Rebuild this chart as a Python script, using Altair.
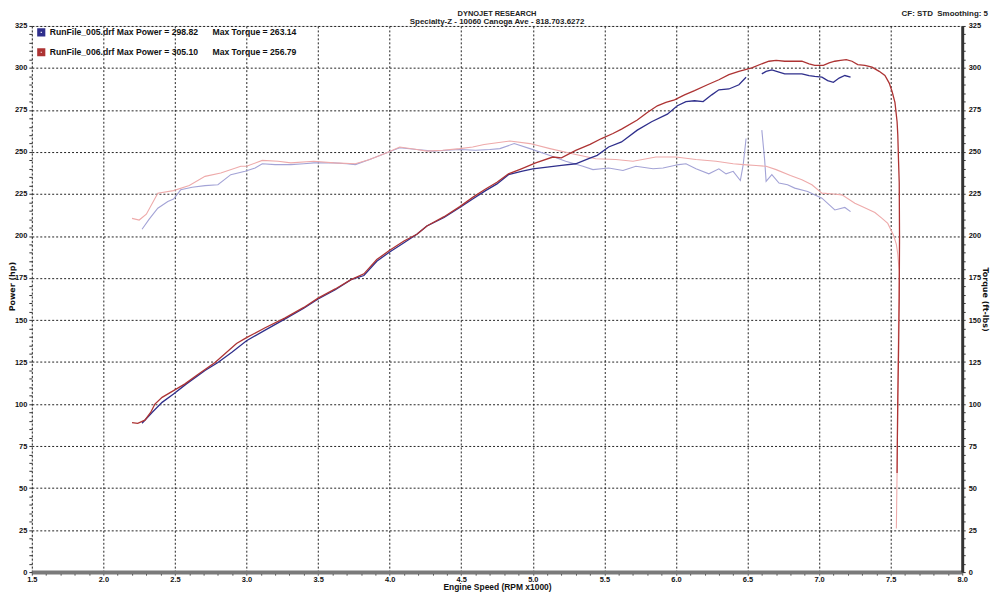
import altair as alt
import pandas as pd

# ---------------- data ----------------
# Run 005 power (two segments, gap near 6.55k rpm)
p005a_rpm = [2.27, 2.34, 2.41, 2.49, 2.58, 2.71, 2.80, 2.90, 3.00, 3.13, 3.27, 3.40, 3.50, 3.62, 3.73, 3.82,
             3.91, 4.00, 4.10, 4.19, 4.26, 4.38, 4.49, 4.58, 4.67, 4.75, 4.83, 4.92, 5.00, 5.10, 5.20, 5.30,
             5.39, 5.45, 5.53, 5.62, 5.73, 5.83, 5.94, 6.01, 6.07, 6.13, 6.19, 6.25, 6.30, 6.37, 6.44, 6.49]
p005a_hp = [88.6, 95, 101, 106, 112, 120, 124.7, 131, 137.7, 144, 150.7, 157, 162.5, 168, 174, 176.5,
            185, 190.5, 196, 201, 206, 211, 217, 222, 227, 231, 236.5, 238.5, 240, 241, 242, 243,
            246, 248, 253, 256, 263, 268, 272.5, 277.5, 280, 280.5, 280, 284, 287, 287.5, 290, 294.5]
p005b_rpm = [6.60, 6.63, 6.67, 6.72, 6.76, 6.82, 6.88, 6.93, 6.97, 7.02, 7.06, 7.10, 7.14, 7.18, 7.22]
p005b_hp = [296.5, 298, 298.8, 297.5, 296.5, 296.5, 296.5, 295.5, 295, 294.5, 292.5, 291.5, 294, 295.5, 294.5]

# Run 005 torque (two segments)
t005a_rpm = [2.27, 2.32, 2.38, 2.45, 2.49, 2.54, 2.62, 2.71, 2.80, 2.89, 2.99, 3.06, 3.11, 3.20, 3.31, 3.40,
             3.47, 3.55, 3.61, 3.70, 3.76, 3.86, 3.98, 4.07, 4.19, 4.30, 4.40, 4.49, 4.60, 4.70, 4.77, 4.87,
             4.98, 5.10, 5.23, 5.35, 5.42, 5.53, 5.63, 5.72, 5.84, 5.91, 6.02, 6.07, 6.14, 6.23, 6.30, 6.35,
             6.40, 6.45, 6.47, 6.49]
t005a_tq = [204, 210, 216.5, 220.5, 222, 227.5, 229, 230, 230.5, 236.5, 238.5, 240.5, 243, 242.5, 242.5, 243,
            243.5, 243.5, 243.5, 243, 242.5, 245.5, 249.5, 252.5, 251.5, 250.5, 251, 251.5, 251, 251.5, 252, 255,
            252, 248.5, 244.5, 241.5, 239.5, 240.5, 239, 241.5, 240, 240.5, 242.5, 243, 240, 237, 240, 237,
            238.5, 233, 242.5, 258]
t005b_rpm = [6.60, 6.62, 6.63, 6.67, 6.72, 6.78, 6.83, 6.92, 7.02, 7.11, 7.18, 7.22]
t005b_tq = [263, 245, 232.5, 236.5, 231.5, 230.5, 228.5, 226.5, 222.5, 215.5, 217, 214.5]

# Run 006 power (ends with the steep fall-off)
p006_rpm = [2.20, 2.24, 2.29, 2.33, 2.36, 2.41, 2.49, 2.57, 2.65, 2.78, 2.93, 3.00, 3.13, 3.27, 3.40, 3.50,
            3.62, 3.73, 3.82, 3.91, 4.00, 4.10, 4.19, 4.26, 4.38, 4.49, 4.58, 4.67, 4.75, 4.83, 4.92, 5.02,
            5.14, 5.20, 5.30, 5.40, 5.48, 5.56, 5.62, 5.73, 5.80, 5.87, 5.93, 5.99, 6.06, 6.13, 6.22, 6.30,
            6.37, 6.44, 6.53, 6.60, 6.65, 6.70, 6.76, 6.82, 6.88, 6.93, 6.97, 7.03, 7.07, 7.11, 7.15, 7.19,
            7.23, 7.27, 7.32, 7.37, 7.42, 7.46, 7.49, 7.51, 7.53, 7.545, 7.55, 7.555, 7.56, 7.562, 7.56,
            7.555, 7.55, 7.547, 7.545]
p006_hp = [89, 88.5, 90.4, 95, 100, 104, 108, 112, 117, 124.7, 136, 139.5, 145.4, 151.3, 157.5, 163,
           168.5, 174, 177.5, 186, 191.5, 197, 201, 206, 211.5, 217.5, 223, 228, 232, 237, 240, 243.5,
           247, 246.5, 251, 254.5, 258, 261, 263.6, 269, 273.5, 277.5, 279.5, 281, 284, 286.5, 290, 293,
           296, 298, 300, 302.5, 304, 304.5, 304, 304, 304, 302.5, 301.5, 301.5, 303, 304, 304.5, 305,
           304, 302, 301.5, 300.5, 298, 295.5, 291, 286, 279.5, 268, 260, 245, 232, 200, 163,
           130, 104, 80, 59]

# Run 006 torque
t006_rpm = [2.20, 2.25, 2.30, 2.38, 2.49, 2.60, 2.71, 2.82, 2.96, 3.00, 3.11, 3.22, 3.31, 3.47, 3.61, 3.76,
            3.86, 3.98, 4.07, 4.19, 4.26, 4.37, 4.49, 4.58, 4.66, 4.75, 4.84, 4.98, 5.12, 5.30, 5.44, 5.58,
            5.70, 5.86, 6.00, 6.14, 6.28, 6.40, 6.47, 6.56, 6.63, 6.70, 6.80, 6.88, 6.95, 7.02, 7.10, 7.16,
            7.25, 7.30, 7.39, 7.44, 7.48, 7.52, 7.54, 7.55, 7.56, 7.555, 7.55, 7.545, 7.54]
t006_tq = [210.5, 209.5, 213, 225.5, 227, 230, 235.5, 237.5, 241.5, 241.5, 245, 244.5, 243.5, 244.5, 243.5, 243,
           245.5, 249.5, 253, 251.5, 250.5, 251, 252, 253, 254.5, 255.5, 256.5, 255, 252, 248.5, 246, 245.5,
           244.5, 247, 247, 245.5, 244.5, 243, 242.5, 242, 241.5, 239.5, 236, 233.5, 230.5, 225.5, 225, 224.5,
           219.5, 217.5, 214, 210.5, 207.5, 200.5, 195, 189, 179, 150, 100, 60, 26]

power_series = ["P005", "P006"]
torque_series = ["T005", "T006"]
power_colors = ["#2f2f8c", "#ad3333"]
torque_colors = ["#a3a3d6", "#eeaaaa"]
legend_labels = [
    "RunFile_005.drf Max Power = 298.82\u00a0\u00a0\u00a0\u00a0\u00a0\u00a0Max Torque = 263.14",
    "RunFile_006.drf Max Power = 305.10\u00a0\u00a0\u00a0\u00a0\u00a0\u00a0Max Torque = 256.79",
]
x_ticks = [round(1.5 + 0.1 * i, 1) for i in range(66)]
y_ticks = list(range(0, 330, 5))
header_lines = ["DYNOJET RESEARCH", "Specialty-Z - 10060 Canoga Ave - 818.703.6272"]
cf_text = "CF: STD\u00a0\u00a0Smoothing: 5"


def rows(series, seg, xs, ys):
    return [{"series": series, "seg": seg, "idx": i, "rpm": x, "val": y}
            for i, (x, y) in enumerate(zip(xs, ys))]


power_df = pd.DataFrame(rows("P005", "a", p005a_rpm, p005a_hp) + rows("P005", "b", p005b_rpm, p005b_hp)
                        + rows("P006", "a", p006_rpm, p006_hp))
torque_df = pd.DataFrame(rows("T005", "a", t005a_rpm, t005a_tq) + rows("T005", "b", t005b_rpm, t005b_tq)
                         + rows("T006", "a", t006_rpm, t006_tq))

FONT = "Liberation Sans"
FONT_V = "DejaVu Sans"
PLOT_W, PLOT_H = 937, 550

x_major = "round(datum.value * 10) % 5 == 0"
y_major = "datum.value % 25 == 0"

x_scale = alt.Scale(domain=[1.5, 8.0], nice=False, zero=False)
y_scale = alt.Scale(domain=[0, 325], nice=False, zero=False)

x_axis = alt.Axis(
    values=x_ticks, orient="bottom", title="Engine Speed (RPM x1000)",
    labelExpr=f"{x_major} ? format(datum.value, '.1f') : ''",
    labelOverlap=False, labelFlush=False, labelBound=False,
    grid=True, gridColor="#222", gridDash=[2, 2], gridWidth=1,
    gridOpacity={"condition": {"test": x_major, "value": 1}, "value": 0},
    tickSize=3, tickColor="#333", domainColor="#7a7a7a", domainWidth=4,
    labelPadding=0, labelFont=FONT, labelFontSize=7.5, labelFontWeight="bold", labelColor="#111",
    titleFont=FONT, titleFontSize=8.5, titleFontWeight="bold", titleColor="#111", titlePadding=0,
)

y_left_axis = alt.Axis(
    values=y_ticks, orient="left", title="Power (hp)",
    labelExpr=f"{y_major} ? datum.label : ''",
    labelOverlap=False, labelFlush=False, labelBound=False,
    grid=True, gridColor="#222", gridDash=[2, 2], gridWidth=1,
    gridOpacity={"condition": {"test": y_major, "value": 1}, "value": 0},
    tickSize=3, tickColor="#333", domain=False, labelPadding=2,
    labelFont=FONT, labelFontSize=7.5, labelFontWeight="bold", labelColor="#111",
    titleFont=FONT_V, titleFontSize=8, titleFontWeight="bold", titleColor="#111",
    titleX=-23, titleY=262, titleBaseline="top",
)

y_right_axis = alt.Axis(
    values=y_ticks, orient="right", title="Torque (ft-lbs)",
    labelExpr=f"{y_major} ? datum.label : ''",
    labelOverlap=False, labelFlush=False, labelBound=False,
    grid=False, tickSize=3, tickColor="#333", domainColor="#333", domainWidth=3, labelPadding=3,
    labelFont=FONT, labelFontSize=7.5, labelFontWeight="bold", labelColor="#111",
    titleFont=FONT_V, titleFontSize=8, titleFontWeight="bold", titleColor="#111", titlePadding=0,
)

label_expr = (f"datum.value == '{power_series[0]}' ? '{legend_labels[0]}' : '{legend_labels[1]}'")

torque_layer = alt.Chart(torque_df).mark_line(strokeWidth=1.1).encode(
    x=alt.X("rpm:Q", scale=x_scale, axis=x_axis),
    y=alt.Y("val:Q", scale=y_scale, axis=y_right_axis),
    stroke=alt.Stroke("series:N", scale=alt.Scale(domain=torque_series, range=torque_colors), legend=None),
    detail="seg:N",
    order=alt.Order("idx:Q"),
)

power_layer = alt.Chart(power_df).mark_line(strokeWidth=1.3).encode(
    x=alt.X("rpm:Q", scale=x_scale, axis=x_axis),
    y=alt.Y("val:Q", scale=y_scale, axis=y_left_axis),
    color=alt.Color("series:N", scale=alt.Scale(domain=power_series, range=power_colors),
                    legend=alt.Legend(
                        title=None, orient="none", legendX=5, legendY=2, symbolType="square",
                        symbolSize=22, symbolStrokeWidth=3.5, labelExpr=label_expr, labelLimit=500,
                        labelFont=FONT, labelFontSize=8.7, labelFontWeight="bold", labelColor="#111",
                        rowPadding=1, padding=0, labelOffset=4, symbolOffset=0)),
    detail="seg:N",
    order=alt.Order("idx:Q"),
)

header1 = alt.Chart(pd.DataFrame({"t": [header_lines[0]]})).mark_text(
    align="center", baseline="top", font=FONT, fontSize=7.5, fontWeight="bold", color="#222"
).encode(text="t:N", x=alt.value(PLOT_W / 2), y=alt.value(-16))
header2 = alt.Chart(pd.DataFrame({"t": [header_lines[1]]})).mark_text(
    align="center", baseline="top", font=FONT, fontSize=8, fontWeight="bold", color="#222"
).encode(text="t:N", x=alt.value(PLOT_W / 2), y=alt.value(-8))
cf_layer = alt.Chart(pd.DataFrame({"t": [cf_text]})).mark_text(
    align="right", baseline="top", font=FONT, fontSize=8, fontWeight="bold", color="#222"
).encode(text="t:N", x=alt.value(963), y=alt.value(-16))

chart = alt.layer(torque_layer, power_layer, header1, header2, cf_layer).resolve_axis(
    y="independent"
).resolve_scale(
    color="independent"
).properties(
    width=PLOT_W, height=PLOT_H,
    padding={"left": 24, "top": 16, "right": 30, "bottom": 21},
    autosize=alt.AutoSizeParams(type="none"),
).configure_view(stroke="#666", strokeWidth=1).configure(background="white")

chart.save("out.html", embed_options={"renderer": "svg", "actions": False})
